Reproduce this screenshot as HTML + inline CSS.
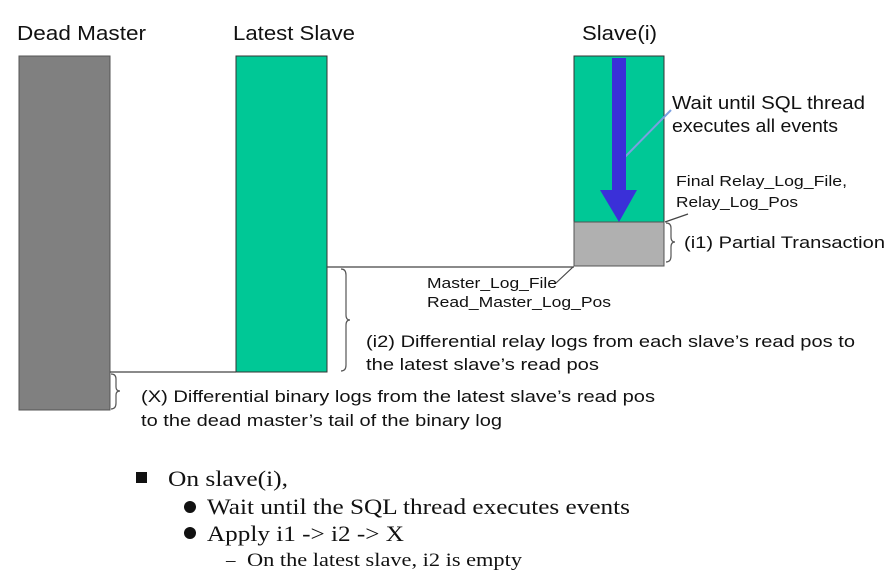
<!DOCTYPE html>
<html><head><meta charset="utf-8"><style>
html,body{margin:0;padding:0;background:#fff;}
svg{display:block;font-family:"Liberation Sans",sans-serif;}
</style></head><body>
<svg width="896" height="577" viewBox="0 0 896 577">
<g font-size="20" fill="#111">
<text x="17" y="40" textLength="129" lengthAdjust="spacingAndGlyphs">Dead Master</text>
<text x="233" y="40" textLength="122" lengthAdjust="spacingAndGlyphs">Latest Slave</text>
<text x="582" y="40" textLength="75" lengthAdjust="spacingAndGlyphs">Slave(i)</text>
</g>
<rect x="19" y="56" width="91" height="354" fill="#808080" stroke="#555"/>
<rect x="236" y="56" width="91" height="316" fill="#00c896" stroke="#333"/>
<rect x="574" y="56" width="90" height="166" fill="#00c896" stroke="#333"/>
<rect x="574" y="222" width="90" height="44" fill="#b0b0b0" stroke="#555"/>
<g stroke="#444" stroke-width="1.2" fill="none">
<line x1="110" y1="372" x2="236" y2="372"/>
<line x1="327" y1="267" x2="574" y2="267"/>
<line x1="665" y1="222" x2="688" y2="214"/>
<line x1="573" y1="267" x2="556" y2="283"/>
</g>
<line x1="671" y1="110" x2="620" y2="162" stroke="#7a9fe0" stroke-width="2"/>
<path d="M612 58 H626 V190 H637 L619 222 L600 190 H612 Z" fill="#3a30d8"/>
<g stroke="#555" stroke-width="1.2" fill="none">
<path d="M341 269 q5 0 5 6 v40 q0 5 4 5 q-4 0 -4 5 v40 q0 6 -5 6"/>
<path d="M111 374 q5 0 5 5 v8 q0 4 4 4 q-4 0 -4 4 v8 q0 6 -5 6"/>
<path d="M666 223 q5 0 5 5 v9 q0 5 4 5 q-4 0 -4 5 v9 q0 6 -5 6"/>
</g>
<g fill="#111">
<text x="672" y="109" font-size="18" textLength="193" lengthAdjust="spacingAndGlyphs">Wait until SQL thread</text>
<text x="672" y="132" font-size="18" textLength="166" lengthAdjust="spacingAndGlyphs">executes all events</text>
<text x="676" y="186" font-size="15" textLength="171" lengthAdjust="spacingAndGlyphs">Final Relay_Log_File,</text>
<text x="676" y="207" font-size="15" textLength="122" lengthAdjust="spacingAndGlyphs">Relay_Log_Pos</text>
<text x="684" y="248" font-size="17" textLength="201" lengthAdjust="spacingAndGlyphs">(i1) Partial Transaction</text>
<text x="427" y="288" font-size="15" textLength="130" lengthAdjust="spacingAndGlyphs">Master_Log_File</text>
<text x="427" y="307" font-size="15" textLength="184" lengthAdjust="spacingAndGlyphs">Read_Master_Log_Pos</text>
<text x="366" y="347" font-size="17" textLength="489" lengthAdjust="spacingAndGlyphs">(i2) Differential relay logs from each slave’s read pos to</text>
<text x="366" y="370" font-size="17" textLength="233" lengthAdjust="spacingAndGlyphs">the latest slave’s read pos</text>
<text x="141" y="402" font-size="17" textLength="514" lengthAdjust="spacingAndGlyphs">(X) Differential binary logs from the latest slave’s read pos</text>
<text x="141" y="426" font-size="17" textLength="361" lengthAdjust="spacingAndGlyphs">to the dead master’s tail of the binary log</text>
</g>
<g fill="#111" font-family="Liberation Serif,serif">
<rect x="136" y="472" width="11" height="11"/>
<text x="168" y="486" font-size="22" textLength="120" lengthAdjust="spacingAndGlyphs">On slave(i),</text>
<circle cx="190" cy="507" r="6"/>
<text x="207" y="514" font-size="22" textLength="423" lengthAdjust="spacingAndGlyphs">Wait until the SQL thread executes events</text>
<circle cx="190" cy="533" r="6"/>
<text x="207" y="541" font-size="22" textLength="197" lengthAdjust="spacingAndGlyphs">Apply i1 -&gt; i2 -&gt; X</text>
<text x="226" y="566" font-size="19">–</text>
<text x="247" y="566" font-size="19" textLength="275" lengthAdjust="spacingAndGlyphs">On the latest slave, i2 is empty</text>
</g>
</svg>
</body></html>
